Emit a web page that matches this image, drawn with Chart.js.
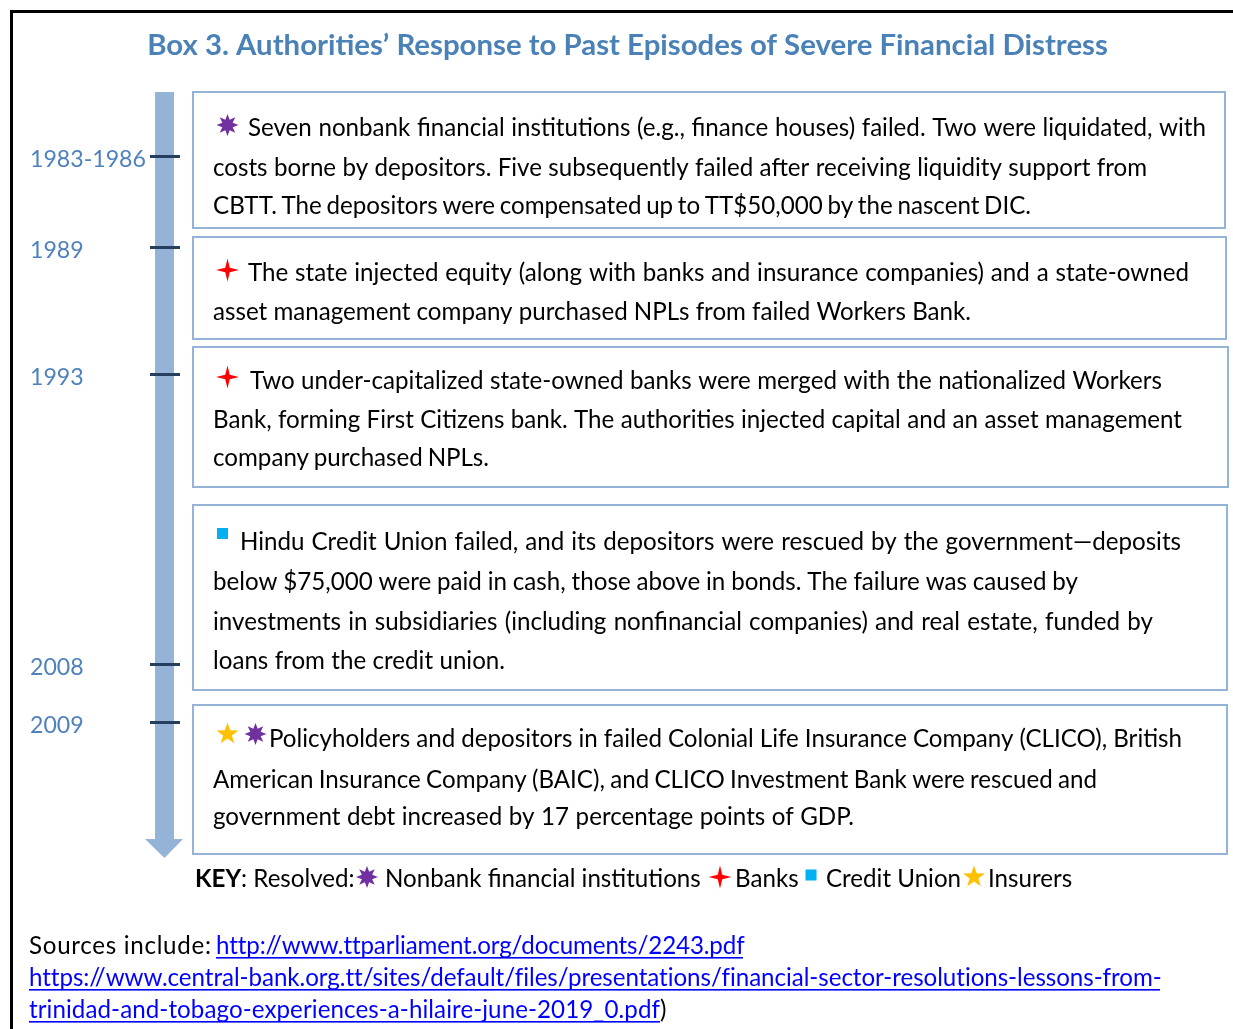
<!DOCTYPE html>
<html lang="en">
<head>
<meta charset="utf-8">
<title>Box 3. Authorities’ Response to Past Episodes of Severe Financial Distress</title>
<script src="https://cdn.jsdelivr.net/npm/chart.js@4.4.1/dist/chart.umd.min.js"></script>
<style>
html, body { margin:0; padding:0; background:#ffffff; overflow:hidden; }
#wrap { position:relative; width:1233px; height:1029px; }
canvas { display:block; }
</style>
</head>
<body>
<div id="wrap"><canvas id="chart" width="1233" height="1029"></canvas></div>
<script>
// ---------------- DATA ----------------
const chartTitle = "Box 3. Authorities’ Response to Past Episodes of Severe Financial Distress";
const years = ["1983-1986", "1989", "1993", "2008", "2009"];
const episodeKinds = [["nonbank"], ["bank"], ["bank"], ["creditUnion"], ["insurer", "nonbank"]];
const episode1983Lines = [
  "Seven nonbank financial institutions (e.g., finance houses) failed. Two were liquidated, with",
  "costs borne by depositors. Five subsequently failed after receiving liquidity support from",
  "CBTT. The depositors were compensated up to TT$50,000 by the nascent DIC."
];
const episode1989Lines = [
  "The state injected equity (along with banks and insurance companies) and a state-owned",
  "asset management company purchased NPLs from failed Workers Bank."
];
const episode1993Lines = [
  "Two under-capitalized state-owned banks were merged with the nationalized Workers",
  "Bank, forming First Citizens bank. The authorities injected capital and an asset management",
  "company purchased NPLs."
];
const episode2008Lines = [
  "Hindu Credit Union failed, and its depositors were rescued by the government—deposits",
  "below $75,000 were paid in cash, those above in bonds. The failure was caused by",
  "investments in subsidiaries (including nonfinancial companies) and real estate, funded by",
  "loans from the credit union."
];
const episode2009Lines = [
  "Policyholders and depositors in failed Colonial Life Insurance Company (CLICO), British",
  "American Insurance Company (BAIC), and CLICO Investment Bank were rescued and",
  "government debt increased by 17 percentage points of GDP."
];
const episodeLines = [episode1983Lines, episode1989Lines, episode1993Lines, episode2008Lines, episode2009Lines];
const keyIntro = ["KEY", ": Resolved:"];
const keyKinds = ["nonbank", "bank", "creditUnion", "insurer"];
const keyLabels = ["Nonbank financial institutions", "Banks", "Credit Union", "Insurers"];
const sourcesLead = "Sources include:";
const sourceLinkLines = [
  "http://www.ttparliament.org/documents/2243.pdf",
  "https://www.central-bank.org.tt/sites/default/files/presentations/financial-sector-resolutions-lessons-from-",
  "trinidad-and-tobago-experiences-a-hilaire-june-2019_0.pdf"
];
const sourcesTail = ")";

// ---------------- STYLE ----------------
const FONT = 'Lato, "Open Sans", "Noto Sans", sans-serif';
const colors = {
  title: '#4a82b8', year: '#4f81bd', tick: '#243f60', arrow: '#95b3d7',
  boxBorder: '#95b3d7', text: '#000000', link: '#0000ff', frame: '#000000',
  kind: { nonbank: '#7030a0', bank: '#ff0000', creditUnion: '#00b0f0', insurer: '#ffc000' }
};

// ---------------- LAYOUT (pixels) ----------------
const L = {
  W: 1233, H: 1029,
  frame: { x: 10, y: 10, t: 3 },
  title: { cx: 627.5, base: 55, width: 961 },
  axis: { left: 30, right: 180, tickLen: 30, yearWidth: 116, labelOffset: 4 },
  yearTicks: [156, 247, 374, 664, 722],
  arrow: { x0: 155, x1: 174, top: 92, headTop: 839, headL: 145, headR: 183, tip: 858 },
  box: { left: 193, top: [92, 237, 347, 505, 705], bottom: [228, 339, 487, 690, 854],
         right: [1225, 1226, 1228, 1227, 1227], lw: 2 },
  baseShift: 2,
  text: { left: 213, firstStart: [248, 248, 250, 240, 269],
          base: [[134, 174, 212], [279, 318], [387, 426, 464], [548, 588, 628, 667], [745, 786, 823]],
          end: [[1206, 1147, 1031], [1189, 971], [1162, 1182, 489], [1181, 1078, 1153, 505], [1182, 1097, 854]] },
  sym: { x: [[227.5], [227.5], [227.5], [222.5], [227.5, 255.5]], y: [125, 270, 377, 533.5, 734] },
  key: { base: 885, keyX: 195, symY: 876, symX: [367, 720, 811, 974], labelX: [385, 735, 826, 988] },
  sources: { x: 29, leadEnd: 211, linkX: 216, base: [952, 984, 1016], linkEnd: [743, 1160, 660] }
};

// ---------------- HELPERS ----------------
const meas = document.createElement('canvas').getContext('2d');
function fitSize(str, weight, target) {
  meas.font = weight + ' 100px ' + FONT;
  return 100 * target / meas.measureText(str).width;
}
const yearSize = fitSize(years[0], 'normal', L.axis.yearWidth);

function drawSymbol(ctx, kind, cx, cy) {
  ctx.save();
  ctx.fillStyle = colors.kind[kind];
  if (kind === 'creditUnion') {
    ctx.fillRect(cx - 5.5, cy - 5.5, 11, 11);
  } else {
    let n, ro, ri;
    if (kind === 'nonbank') { n = 8; ro = 11; ri = 5.6; }
    else if (kind === 'bank') { n = 4; ro = 11.5; ri = 3.2; }
    else { n = 5; ro = 11.5; ri = 4.6; }
    ctx.beginPath();
    for (let i = 0; i < 2 * n; i++) {
      const r = (i % 2) ? ri : ro;
      const a = -Math.PI / 2 + i * Math.PI / n;
      ctx.lineTo(cx + r * Math.cos(a), cy + r * Math.sin(a));
    }
    ctx.closePath();
    ctx.fill();
  }
  ctx.restore();
}

function drawLine(ctx, str, x, base, endX, mode) {
  ctx.save();
  const natural = ctx.measureText(str).width;
  if (endX) {
    if (mode === 'word') {
      const n = (str.match(/ /g) || []).length;
      if (n) {
        let ws = (endX - x - natural) / n;
        ws = Math.max(-3, Math.min(10, ws));
        ctx.wordSpacing = ws + 'px';
      }
    } else {
      const n = str.length - 1;
      let ls = (endX - x - natural) / n;
      ls = Math.max(-1.5, Math.min(1.5, ls));
      ctx.letterSpacing = ls + 'px';
    }
  }
  ctx.fillText(str, x, base);
  const w = ctx.measureText(str).width;
  ctx.restore();
  return w;
}

// ---------------- PLUGIN ----------------
const infographicPlugin = {
  id: 'infographic',
  beforeDraw(chart) {
    const ctx = chart.ctx;
    const ys = chart.scales.y;
    const Y = v => ys.getPixelForValue(v);
    ctx.save();
    ctx.fillStyle = '#ffffff';
    ctx.fillRect(0, 0, chart.width, chart.height);
    const a = L.arrow;
    ctx.fillStyle = colors.arrow;
    ctx.beginPath();
    ctx.moveTo(a.x0, Y(a.top));
    ctx.lineTo(a.x1, Y(a.top));
    ctx.lineTo(a.x1, Y(a.headTop));
    ctx.lineTo(a.headR, Y(a.headTop));
    ctx.lineTo((a.x0 + a.x1) / 2, Y(a.tip));
    ctx.lineTo(a.headL, Y(a.headTop));
    ctx.lineTo(a.x0, Y(a.headTop));
    ctx.closePath();
    ctx.fill();
    ctx.restore();
  },
  afterDraw(chart) {
    const ctx = chart.ctx;
    const ys = chart.scales.y;
    const Y = v => ys.getPixelForValue(v);
    const TB = v => Y(v + L.baseShift);
    ctx.save();

    // frame
    ctx.fillStyle = colors.frame;
    ctx.fillRect(L.frame.x, L.frame.y, L.W - L.frame.x, L.frame.t);
    ctx.fillRect(L.frame.x, L.frame.y, L.frame.t, L.H - L.frame.y);

    // title
    const tSize = fitSize(chartTitle, 'bold', L.title.width);
    ctx.font = 'bold ' + tSize + 'px ' + FONT;
    ctx.fillStyle = colors.title;
    ctx.textAlign = 'center';
    ctx.textBaseline = 'alphabetic';
    ctx.fillText(chartTitle, L.title.cx, Y(L.title.base));
    ctx.textAlign = 'left';

    // body font size from text extents
    ctx.font = '100px ' + FONT;
    let sumT = 0, sumN = 0;
    episodeLines.forEach((lines, i) => lines.forEach((s, j) => {
      const x0 = j === 0 ? L.text.firstStart[i] : L.text.left;
      sumT += L.text.end[i][j] - x0;
      sumN += ctx.measureText(s).width;
    }));
    const bodySize = 100 * sumT / sumN;
    const bodyFont = bodySize + 'px ' + FONT;

    // boxes
    ctx.strokeStyle = colors.boxBorder;
    ctx.lineWidth = L.box.lw;
    episodeLines.forEach((lines, i) => {
      const top = Y(L.box.top[i]), bottom = Y(L.box.bottom[i]);
      ctx.strokeRect(L.box.left, top, L.box.right[i] - L.box.left, bottom - top);
    });

    // episode text + symbols
    ctx.font = bodyFont;
    ctx.fillStyle = colors.text;
    episodeLines.forEach((lines, i) => {
      episodeKinds[i].forEach((k, m) => drawSymbol(ctx, k, L.sym.x[i][m], Y(L.sym.y[i])));
      ctx.fillStyle = colors.text;
      lines.forEach((s, j) => {
        const x0 = j === 0 ? L.text.firstStart[i] : L.text.left;
        drawLine(ctx, s, x0, TB(L.text.base[i][j]), L.text.end[i][j], 'word');
      });
    });

    // key
    const kb = TB(L.key.base);
    ctx.font = 'bold ' + bodyFont;
    ctx.fillStyle = colors.text;
    ctx.fillText(keyIntro[0], L.key.keyX, kb);
    const kw = ctx.measureText(keyIntro[0]).width;
    ctx.font = bodyFont;
    ctx.fillText(keyIntro[1], L.key.keyX + kw, kb);
    keyKinds.forEach((k, i) => {
      drawSymbol(ctx, k, L.key.symX[i], k === 'creditUnion' ? Y(L.key.symY - 1) : Y(L.key.symY + 1));
      ctx.fillStyle = colors.text;
      ctx.fillText(keyLabels[i], L.key.labelX[i], kb);
    });

    // sources
    ctx.font = bodyFont;
    ctx.fillStyle = colors.text;
    drawLine(ctx, sourcesLead, L.sources.x, TB(L.sources.base[0]), L.sources.leadEnd, 'letter');
    sourceLinkLines.forEach((s, i) => {
      const x0 = i === 0 ? L.sources.linkX : L.sources.x;
      const b = TB(L.sources.base[i]);
      ctx.fillStyle = colors.link;
      drawLine(ctx, s, x0, b, L.sources.linkEnd[i], 'letter');
      const endX = L.sources.linkEnd[i];
      ctx.fillRect(x0, b + 3, endX - x0, 1.6);
      if (i === sourceLinkLines.length - 1) {
        ctx.fillStyle = colors.text;
        ctx.fillText(sourcesTail, endX, b);
      }
    });

    ctx.restore();
  }
};

// ---------------- CHART ----------------
const chart = new Chart(document.getElementById('chart'), {
  type: 'scatter',
  data: { datasets: [{ data: [], showLine: false }] },
  options: {
    responsive: false,
    animation: false,
    devicePixelRatio: 1,
    layout: { padding: { left: L.axis.left, top: 0, right: 0, bottom: 0 } },
    plugins: { legend: { display: false }, tooltip: { enabled: false }, title: { display: false } },
    scales: {
      x: { type: 'linear', display: false, min: 0, max: 1 },
      y: {
        type: 'linear', position: 'left', reverse: true, min: 0, max: L.H,
        afterFit(s) { s.width = L.axis.right - L.axis.left; s.paddingTop = 0; s.paddingBottom = 0; },
        afterBuildTicks(s) { s.ticks = L.yearTicks.map(v => ({ value: v })); },
        ticks: {
          autoSkip: false, crossAlign: 'far', labelOffset: L.axis.labelOffset,
          color: colors.year, font: { family: FONT, size: yearSize },
          callback: (v, i) => years[i]
        },
        grid: { drawOnChartArea: false, drawTicks: true, tickLength: L.axis.tickLen,
                color: colors.tick, lineWidth: 3 },
        border: { display: false }
      }
    }
  },
  plugins: [infographicPlugin]
});
</script>
</body>
</html>
